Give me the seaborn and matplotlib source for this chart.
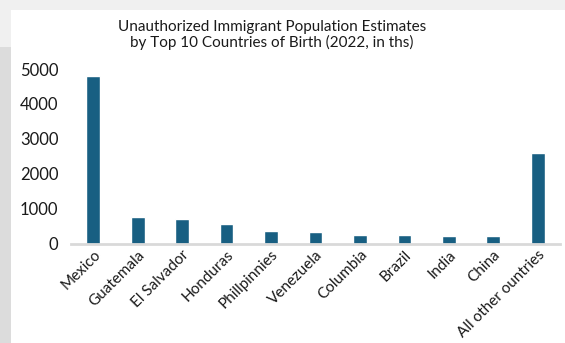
import matplotlib
matplotlib.use("Agg")
import matplotlib.pyplot as plt
import seaborn as sns
import pandas as pd
from matplotlib.patches import Rectangle

countries = ["Mexico", "Guatemala", "El Salvador", "Honduras", "Phillpinnies",
             "Venezuela", "Columbia", "Brazil", "India", "China", "All other ountries"]
values = [4810, 750, 710, 560, 350, 320, 240, 230, 220, 210, 2590]
yticks = [0, 1000, 2000, 3000, 4000, 5000]
title = "Unauthorized Immigrant Population Estimates\nby Top 10 Countries of Birth (2022, in ths)"

sns.set_theme(style="white")
plt.rcParams['font.family'] = ['Lato', 'DejaVu Sans']

df = pd.DataFrame({"country": countries, "value": values})

fig = plt.figure(figsize=(5.65, 3.43), dpi=100)
fig.patch.set_facecolor("#f0f0f0")
W, H = 565, 343
# white panel
fig.patches.append(Rectangle((11 / W, 0), 1 - 11 / W, 1 - 10 / H, transform=fig.transFigure,
                             facecolor="white", edgecolor="none", zorder=-10))
# darker left strip
fig.patches.append(Rectangle((0, 0), 11 / W, 1 - 47 / H, transform=fig.transFigure,
                             facecolor="#dcdcdc", edgecolor="none", zorder=-10))

ax = fig.add_axes([71 / W, 1 - 243.5 / H, (560 - 71) / W, (243.5 - 69) / H])
ax.set_facecolor("none")
sns.barplot(data=df, x="country", y="value", color="#185f82", width=0.31,
            saturation=1, ax=ax)
ax.set_xlim(-0.5, 10.5)
ax.set_ylim(0, 5000)
ax.set_yticks(yticks)
ax.set_yticklabels([str(v) for v in yticks], fontsize=12, color="#1a1a1a")
ax.set_xlabel("")
ax.set_ylabel("")
for s in ["top", "right", "left"]:
    ax.spines[s].set_visible(False)
ax.spines["bottom"].set_color("#d9d9d9")
ax.spines["bottom"].set_linewidth(2)
ax.tick_params(axis="both", length=0)
ax.tick_params(axis="y", pad=9)
ax.set_xticks(range(len(countries)))
ax.set_xticklabels(countries, rotation=45, ha="right", rotation_mode="anchor",
                   fontsize=11, color="#1a1a1a")
ax.tick_params(axis="x", pad=3)

fig.text(272 / W, 1 - 35 / H, title, ha="center", va="center", fontsize=11,
         color="#1a1a1a", linespacing=1.0)

fig.savefig("out.png", dpi=100, facecolor=fig.get_facecolor())
